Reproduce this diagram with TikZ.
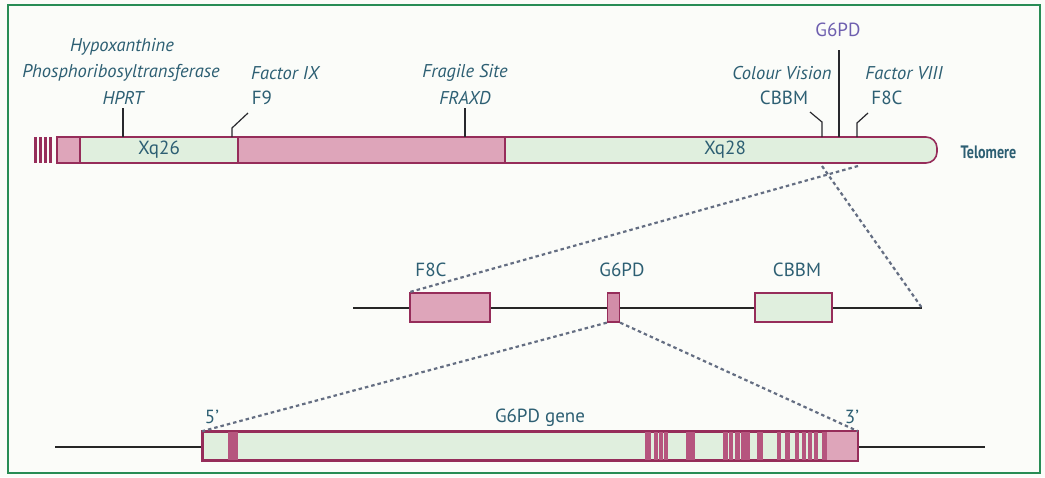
\documentclass[tikz,border=0pt]{standalone}
\usepackage{fontspec}
\setmainfont{PT Sans}
\newfontfamily\telofont[FakeStretch=0.78]{PT Sans}
\definecolor{bg}{RGB}{251,252,249}
\definecolor{framec}{RGB}{40,140,85}
\definecolor{rim}{RGB}{150,45,90}
\definecolor{pinkf}{RGB}{222,165,186}
\definecolor{greenf}{RGB}{224,239,222}
\definecolor{exonc}{RGB}{182,85,126}
\definecolor{txt}{RGB}{45,95,115}
\definecolor{purp}{RGB}{110,95,175}
\definecolor{dotc}{RGB}{100,110,130}
\definecolor{tickc}{RGB}{40,40,45}
\begin{document}
\begin{tikzpicture}[x=1pt,y=-1pt,
  lab/.style={font=\fontsize{18.5}{18.5}\selectfont\itshape, text=txt, inner sep=0.5},
  code/.style={font=\fontsize{19}{19}\selectfont, text=txt, inner sep=0.5},
  seg/.style={draw=rim, line width=1.6, minimum height=26, inner sep=0, text=txt,
              font=\fontsize{19}{19}\selectfont},
  box/.style={draw=rim, line width=1.6, minimum height=29, inner sep=0},
  tickline/.style={draw=tickc, line width=1.2},
  dnaline/.style={draw=black!85, line width=1.5},
  zoomline/.style={draw=dotc, line width=2.2, dash pattern=on 3.5pt off 3pt},
  ]
\useasboundingbox (0,0) rectangle (1045,477);
\fill[bg] (0,0) rectangle (1045,477);
\draw[framec, line width=1.5] (8,5) rectangle (1040,473);

% ---------- top chromosome ----------
\foreach \x in {34,39,44,49} \fill[rim] (\x,137) rectangle ++(3,26);
\node[seg, fill=pinkf, minimum width=23] (p0) at (68.5,150) {};
\node[seg, fill=greenf, minimum width=158] (xq26) at (159,150) {Xq26};
\node[seg, fill=pinkf, minimum width=267] (p1) at (371.5,150) {};
\draw[draw=rim, line width=1.6, fill=greenf]
  (505,137) {[rounded corners=11] -- (937,137) -- (937,163)} -- (505,163) -- cycle;
\node[code] (xq28) at (725,150) {Xq28};
\node[code, font=\fontsize{18}{18}\telofont\bfseries, anchor=west] (telo) at (960,152) {Telomere};

% labels above
\node[lab] (hypo) at (122,47) {Hypoxanthine};
\node[lab] (phos) at (121,73) {Phosphoribosyltransferase};
\node[lab] (hprt) at (123,98) {HPRT};
\node[lab] (fix) at (285,73) {Factor IX};
\node[code] (f9) at (262,98) {F9};
\node[lab] (fsite) at (465,73) {Fragile Site};
\node[lab] (fraxd) at (465,98) {FRAXD};
\node[code, text=purp] (g6top) at (838,30) {G6PD};
\node[lab] (cvis) at (782,73) {Colour Vision};
\node[code] (cbbmtop) at (784,98) {CBBM};
\node[lab] (f8tit) at (904,73) {Factor VIII};
\node[code] (f8top) at (887,98) {F8C};

% ticks
\coordinate (hprtb) at (123,137);
\draw[tickline] ([yshift=-3pt]hprt.south) -- (hprtb);
\coordinate (f9a) at (248,113); \coordinate (f9b) at (232,128); \coordinate (f9c) at (232,137);
\draw[tickline] (f9a) -- (f9b) -- (f9c);
\coordinate (fraxdb) at (465,137);
\draw[tickline] ([yshift=-3pt]fraxd.south) -- (fraxdb);
\coordinate (g6a) at (839,50); \coordinate (g6b) at (839,137);
\draw[tickline] (g6a) -- (g6b);
\coordinate (cba) at (810,112); \coordinate (cbb) at (822,122); \coordinate (cbc) at (822,137);
\draw[tickline] (cba) -- (cbb) -- (cbc);
\coordinate (f8a) at (868,113); \coordinate (f8b) at (857,123); \coordinate (f8c) at (857,137);
\draw[tickline] (f8a) -- (f8b) -- (f8c);

% ---------- middle region ----------
\coordinate (ml) at (353,308);
\coordinate (mr) at (922,308);
\draw[dnaline] (ml) -- (mr);
\node[box, fill=pinkf, minimum width=80] (f8box) at (450,307.5) {};
\node[box, fill=pinkf!70!exonc, minimum width=12, line width=1.3] (g6box) at (613.5,307.5) {};
\node[box, fill=greenf, minimum width=77] (cbbox) at (793.5,307.5) {};
\node[code] (f8lab) at (431,270) {F8C};
\node[code] (g6lab) at (622,270) {G6PD};
\node[code] (cblab) at (797,270) {CBBM};

\coordinate (za) at (858,166);
\coordinate (zb) at (822,166);
\draw[zoomline] (za) -- (f8box.north west);
\draw[zoomline] (zb) -- (mr);

% ---------- bottom gene ----------
\coordinate (gl) at (55,447);
\coordinate (gr) at (985,447);
\draw[dnaline] (gl) -- (gr);
\node[box, fill=greenf, minimum width=654, minimum height=28] (gene) at (530,446) {};
\foreach \a/\b in {227.5/238,644.5/650.5,653.5/657.5,658.5/662.5,663.5/667.5,685.5/694.5,722.5/727.5,728.5/732.5,734.5/739.5,740.5/749.5,
                   756.5/762.5,776.5/780.5,784.5/789.5,794.5/798.5,801.5/805.5,807.5/811.5,813.5/817.5,821.5/827}
  \fill[exonc] (\a,432) rectangle (\b,460);
\fill[pinkf] (827,432) rectangle (857,460);
\draw[draw=rim, line width=1.6] (gene.north west) rectangle (gene.south east);
\node[code] (five) at (212,417) {5'};
\node[code] (three) at (852,417) {3'};
\node[code] (genelab) at (540,418) {G6PD gene};

\draw[zoomline] (g6box.south west) -- (gene.north west);
\draw[zoomline] (g6box.south east) -- (gene.north east);
\end{tikzpicture}
\end{document}
